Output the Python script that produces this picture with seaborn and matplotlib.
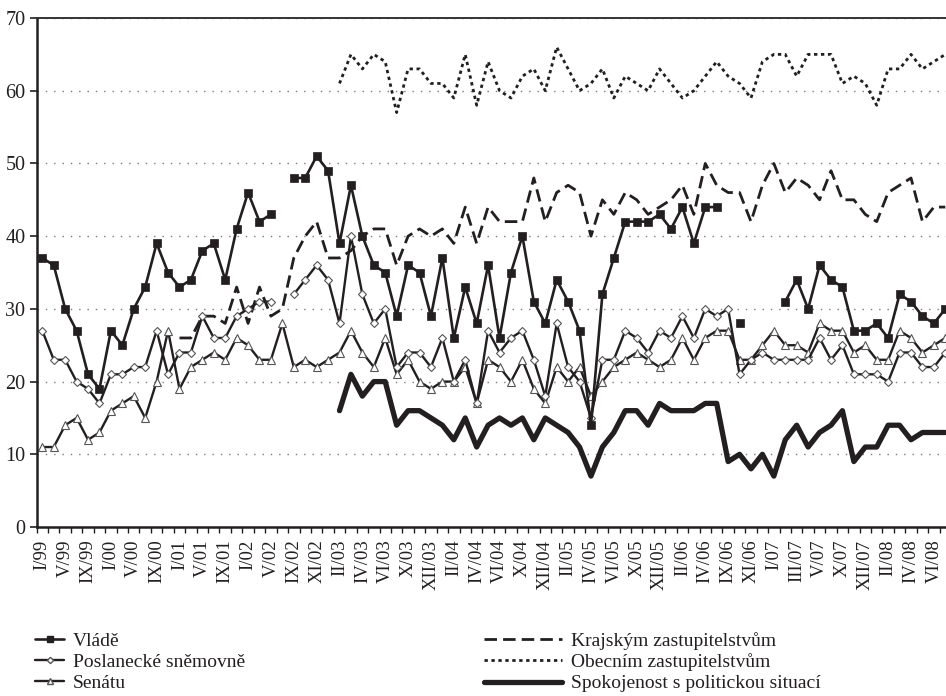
import numpy as np
import pandas as pd
import matplotlib
matplotlib.use("Agg")
import matplotlib.pyplot as plt
from matplotlib.lines import Line2D
import seaborn as sns

nan = np.nan

# survey waves (only every second one is labelled)
months = ["I/99", "III/99", "V/99", "VII/99", "IX/99", "XI/99",
          "I/00", "III/00", "V/00", "VII/00", "IX/00", "XI/00",
          "I/01", "III/01", "V/01", "VII/01", "IX/01", "XI/01",
          "I/02", "III/02", "V/02", "VII/02", "IX/02", "X/02", "XI/02",
          "I/03", "II/03", "III/03", "IV/03", "V/03", "VI/03", "IX/03",
          "X/03", "XI/03", "XII/03", "I/04", "II/04", "III/04", "IV/04",
          "V/04", "VI/04", "IX/04", "X/04", "XI/04", "XII/04", "I/05",
          "II/05", "III/05", "IV/05", "V/05", "VI/05", "IX/05", "X/05",
          "XI/05", "XII/05", "I/06", "II/06", "III/06", "IV/06", "V/06",
          "IX/06", "X/06", "XI/06", "XII/06", "I/07", "II/07", "III/07",
          "IV/07", "V/07", "VI/07", "X/07", "XI/07", "XII/07", "I/08",
          "II/08", "III/08", "IV/08", "V/08", "VI/08", "IX/08"]

vlade = [37, 36, 30, 27, 21, 19, 27, 25, 30, 33,
         39, 35, 33, 34, 38, 39, 34, 41, 46, 42,
         43, nan, 48, 48, 51, 49, 39, 47, 40, 36,
         35, 29, 36, 35, 29, 37, 26, 33, 28, 36,
         26, 35, 40, 31, 28, 34, 31, 27, 14, 32,
         37, 42, 42, 42, 43, 41, 44, 39, 44, 44,
         nan, 28, nan, nan, nan, 31, 34, 30, 36, 34,
         33, 27, 27, 28, 26, 32, 31, 29, 28, 30]

snemovna = [27, 23, 23, 20, 19, 17, 21, 21, 22, 22,
            27, 21, 24, 24, 29, 26, 26, 29, 30, 31,
            31, nan, 32, 34, 36, 34, 28, 40, 32, 28,
            30, 22, 24, 24, 22, 26, 20, 23, 17, 27,
            24, 26, 27, 23, 18, 28, 22, 20, 15, 23,
            23, 27, 26, 24, 27, 26, 29, 26, 30, 29,
            30, 21, 23, 24, 23, 23, 23, 23, 26, 23,
            25, 21, 21, 21, 20, 24, 24, 22, 22, 24]

senat = [11, 11, 14, 15, 12, 13, 16, 17, 18, 15,
         20, 27, 19, 22, 23, 24, 23, 26, 25, 23,
         23, 28, 22, 23, 22, 23, 24, 27, 24, 22,
         26, 21, 23, 20, 19, 20, 20, 22, 17, 23,
         22, 20, 23, 19, 17, 22, 20, 22, 18, 20,
         22, 23, 24, 23, 22, 23, 26, 23, 26, 27,
         27, 23, 23, 25, 27, 25, 25, 24, 28, 27,
         27, 24, 25, 23, 23, 27, 26, 24, 25, 26]

kraje = [nan] * 12 + [
         26, 26, 29, 29, 28, 33, 28, 33,
         29, 30, 37, 40, 42, 37, 37, 38, 40, 41,
         41, 36, 40, 41, 40, 41, 39, 44, 39, 44,
         42, 42, 42, 48, 42, 46, 47, 46, 40, 45,
         43, 46, 45, 43, 44, 45, 47, 43, 50, 47,
         46, 46, 42, 47, 50, 46, 48, 47, 45, 49,
         45, 45, 43, 42, 46, 47, 48, 42, 44, 44]

obce = [nan] * 26 + [
        61, 65, 63, 65,
        64, 57, 63, 63, 61, 61, 59, 65, 58, 64,
        60, 59, 62, 63, 60, 66, 63, 60, 61, 63,
        59, 62, 61, 60, 63, 61, 59, 60, 62, 64,
        62, 61, 59, 64, 65, 65, 62, 65, 65, 65,
        61, 62, 61, 58, 63, 63, 65, 63, 64, 65]

spokojenost = [nan] * 26 + [
               16, 21, 18, 20,
               20, 14, 16, 16, 15, 14, 12, 15, 11, 14,
               15, 14, 15, 12, 15, 14, 13, 11, 7, 11,
               13, 16, 16, 14, 17, 16, 16, 16, 17, 17,
               9, 10, 8, 10, 7, 12, 14, 11, 13, 14,
               16, 9, 11, 11, 14, 14, 12, 13, 13, 13]

ink = "#231f20"

sns.set_theme(style="white")
plt.rcParams['font.family'] = ['Liberation Serif', 'DejaVu Serif']

fig = plt.figure(figsize=(9.46, 6.96), dpi=100)
# plot area runs slightly past the right edge, as in the original
ax = fig.add_axes([0.0387, 0.2428, 0.9666, 0.7313])

x = np.arange(len(months))


def draw(values, **kw):
    v = pd.Series(values, dtype=float)
    df = pd.DataFrame({"x": x, "y": v, "seg": v.isna().cumsum()}).dropna()
    sns.lineplot(data=df, x="x", y="y", units="seg", estimator=None,
                 ax=ax, legend=False, color=ink, **kw)


draw(obce, lw=2.0, linestyle=(0, (1.2, 1.3)))
draw(kraje, lw=2.0, linestyle=(0, (4.5, 2.2)))
draw(spokojenost, lw=3.8, solid_joinstyle="round")
draw(senat, lw=1.7, marker="^", markersize=5.5, markerfacecolor="white",
     markeredgecolor="#555555", markeredgewidth=0.8)
draw(snemovna, lw=1.7, marker="D", markersize=4, markerfacecolor="white",
     markeredgecolor="#555555", markeredgewidth=0.8)
draw(vlade, lw=1.9, marker="s", markersize=6, markerfacecolor=ink,
     markeredgecolor=ink, markeredgewidth=0.5)

ax.set_xlim(-0.5, len(months) - 0.5)
ax.set_ylim(0, 70)
ax.set_yticks(range(0, 80, 10))
ax.set_xticks(x[::2])
ax.set_xticklabels(months[::2], rotation=90, fontsize=13.5)
ax.set_xticks(np.arange(-0.5, len(months), 1), minor=True)
ax.set_xlabel("")
ax.set_ylabel("")

ax.yaxis.grid(True, color="#7a7a7a", linestyle=(0, (1, 5)), lw=1)
ax.xaxis.grid(False)
ax.tick_params(axis="y", which="major", left=True, length=5, width=1.2,
               color=ink, labelsize=14.5, pad=3, labelcolor=ink)
ax.tick_params(axis="x", which="major", bottom=True, length=0, pad=9,
               labelcolor=ink)
ax.tick_params(axis="x", which="minor", bottom=True, length=4, width=1,
               color=ink)

for side in ["left", "bottom"]:
    ax.spines[side].set_color(ink)
    ax.spines[side].set_linewidth(1.8)
ax.spines["top"].set_color("#333333")
ax.spines["top"].set_linewidth(1.4)
ax.spines["right"].set_visible(False)

left_handles = [
    Line2D([], [], color=ink, lw=1.9, marker="s", markersize=4.5),
    Line2D([], [], color=ink, lw=1.7, marker="D", markersize=3.2,
           markerfacecolor="white", markeredgecolor="#555555"),
    Line2D([], [], color=ink, lw=1.7, marker="^", markersize=4,
           markerfacecolor="white", markeredgecolor="#555555"),
]
right_handles = [
    Line2D([], [], color=ink, lw=2.0, linestyle=(0, (4.5, 2.2))),
    Line2D([], [], color=ink, lw=2.0, linestyle=(0, (1.2, 1.3))),
    Line2D([], [], color=ink, lw=3.8),
]
leg_kw = dict(frameon=False, fontsize=14, labelspacing=0.18,
              borderaxespad=0, borderpad=0, labelcolor=ink)
leg1 = fig.legend(left_handles, ["Vládě", "Poslanecké sněmovně", "Senátu"],
                  loc="upper left", bbox_to_anchor=(35 / 946, 1 - 632 / 696),
                  handlelength=1.5, handletextpad=0.45, numpoints=1, **leg_kw)
leg2 = fig.legend(right_handles, ["Krajským zastupitelstvům",
                                  "Obecním zastupitelstvům",
                                  "Spokojenost s politickou situací"],
                  loc="upper left", bbox_to_anchor=(484 / 946, 1 - 632 / 696),
                  handlelength=4.0, handletextpad=0.45, **leg_kw)

fig.savefig("out.png", dpi=100)
